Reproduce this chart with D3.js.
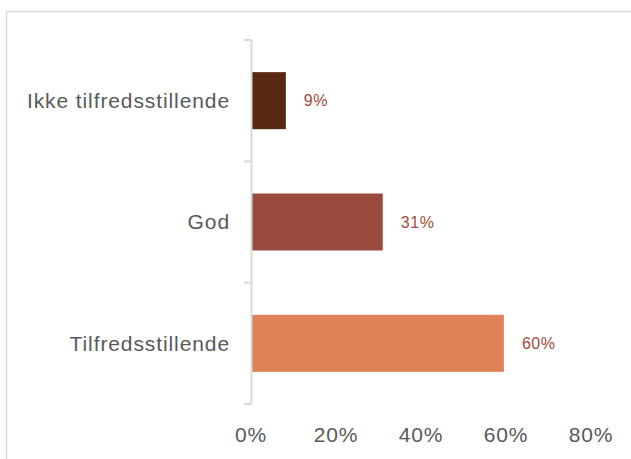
<!DOCTYPE html>
<html>
<head>
<meta charset="utf-8">
<script src="https://cdn.jsdelivr.net/npm/d3@7"></script>
<style>
  body { margin: 0; background: #fff; }
  svg { display: block; }
</style>
</head>
<body>
<div id="container"></div>
<script>
/* DATA */
const categories = ["Ikke tilfredsstillende", "God", "Tilfredsstillende"]
const shares = [0.082, 0.31, 0.595]
const shareLabels = ["9%", "31%", "60%"]
const barColors = ["#592811", "#9a4b3f", "#df8255"]
const xTicks = [0, 0.2, 0.4, 0.6, 0.8]

/* CONSTANTS */
const W = 631, H = 459
const margin = {top: 40, right: 40, bottom: 55, left: 251}
const width = W - margin.left - margin.right
const height = H - margin.top - margin.bottom
const font = "'Liberation Sans', Arial, sans-serif"

const svg = d3.select("#container")
  .append("svg")
    .attr("width", W)
    .attr("height", H)

// outer chart border (cut off at right/bottom like the source)
svg.append("rect")
  .attr("x", 6.5).attr("y", 11.5)
  .attr("width", 700).attr("height", 600)
  .attr("fill", "none")
  .attr("stroke", "#d9d9d9")
  .attr("stroke-width", 1.5)

const g = svg.append("g")
  .attr("transform", "translate(" + margin.left + "," + margin.top + ")")

// SCALES
const xScale = d3.scaleLinear()
  .domain([0, 0.8])
  .range([0, width])

const yScale = d3.scaleBand()
  .domain(categories)
  .range([0, height])
  .paddingInner(0.53)
  .paddingOuter(0.265)

// BARS
g.selectAll(".bar")
  .data(shares)
  .join("rect")
    .attr("x", xScale(0))
    .attr("y", (d, i) => yScale(categories[i]))
    .attr("width", d => xScale(d))
    .attr("height", yScale.bandwidth())
    .attr("fill", (d, i) => barColors[i])

// y axis: line + ticks between categories
const yLine = d3.scaleLinear().domain([0, categories.length]).range([0, height])
g.append("line")
  .attr("x1", 0.5).attr("x2", 0.5)
  .attr("y1", 0).attr("y2", height)
  .attr("stroke", "#d9d9d9").attr("stroke-width", 2)
g.selectAll(".ytick")
  .data(d3.range(categories.length + 1))
  .join("line")
    .attr("x1", -7).attr("x2", 0.5)
    .attr("y1", d => yLine(d)).attr("y2", d => yLine(d))
    .attr("stroke", "#d9d9d9").attr("stroke-width", 2)

g.selectAll(".ylab")
  .data(categories)
  .join("text")
    .attr("x", -21)
    .attr("y", d => yScale(d) + yScale.bandwidth() / 2)
    .attr("dy", "0.35em")
    .attr("text-anchor", "end")
    .attr("font-family", font)
    .attr("font-size", 21)
    .attr("letter-spacing", 0.9)
    .attr("fill", "#595959")
    .text(d => d)

// x tick labels (no axis line)
g.selectAll(".xlab")
  .data(xTicks)
  .join("text")
    .attr("x", d => xScale(d))
    .attr("y", height + 38)
    .attr("text-anchor", "middle")
    .attr("font-family", font)
    .attr("font-size", 21)
    .attr("letter-spacing", 0.9)
    .attr("fill", "#595959")
    .text(d3.format(".0%"))

// value labels
g.selectAll(".val")
  .data(shares)
  .join("text")
    .attr("x", d => xScale(d) + 18)
    .attr("y", (d, i) => yScale(categories[i]) + yScale.bandwidth() / 2)
    .attr("dy", "0.35em")
    .attr("font-family", font)
    .attr("font-size", 16)
    .attr("letter-spacing", 0.6)
    .attr("fill", "#a5493b")
    .text((d, i) => shareLabels[i])
</script>
</body>
</html>
